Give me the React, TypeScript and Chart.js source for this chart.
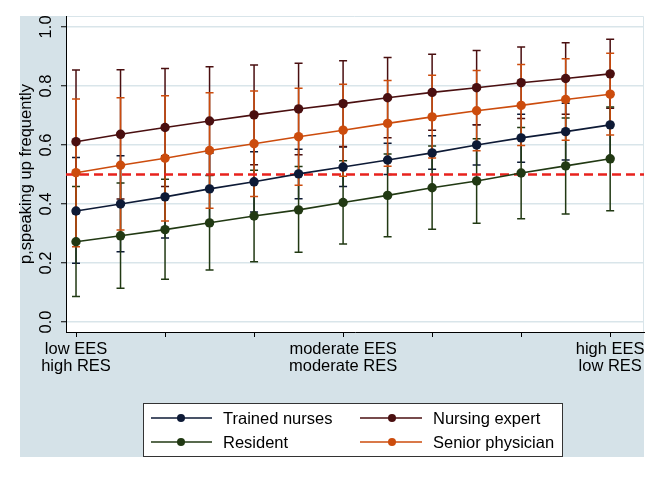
import React, { useEffect, useRef } from "react";
import { Chart, registerables } from "chart.js";
Chart.register(...registerables);

// ---------- data ----------
const X_INDEX = [0, 1, 2, 3, 4, 5, 6, 7, 8, 9, 10, 11, 12];
const X_TICKS = [0, 2, 4, 6, 8, 10, 12];
const X_LABEL_POS = [0, 6, 12];
const X_LABELS = [
  ["low EES", "high RES"],
  ["moderate EES", "moderate RES"],
  ["high EES", "low RES"],
];
const Y_TICKS = [0, 0.2, 0.4, 0.6, 0.8, 1.0];
const Y_TITLE = "p,speaking up frequently";
const REF_VALUE = 0.5;

const SERIES_NAMES = ["Trained nurses", "Nursing expert", "Resident", "Senior physician"];
const SERIES_COLORS = ["#0d1a36", "#4a0f10", "#213913", "#cc4c0d"];

const NURSES_MEAN = [0.376, 0.4, 0.424, 0.451, 0.475, 0.502, 0.525, 0.549, 0.573, 0.6, 0.624, 0.645, 0.668];
const NURSES_LO = [0.199, 0.238, 0.285, 0.33, 0.373, 0.418, 0.459, 0.5, 0.518, 0.532, 0.541, 0.549, 0.558];
const NURSES_HI = [0.557, 0.563, 0.563, 0.572, 0.577, 0.585, 0.593, 0.606, 0.631, 0.668, 0.704, 0.741, 0.778];

const EXPERT_MEAN = [0.611, 0.636, 0.659, 0.681, 0.702, 0.722, 0.74, 0.76, 0.778, 0.794, 0.811, 0.825, 0.841];
const EXPERT_LO = [0.368, 0.417, 0.459, 0.497, 0.533, 0.567, 0.595, 0.624, 0.65, 0.668, 0.69, 0.704, 0.724];
const EXPERT_HI = [0.854, 0.855, 0.859, 0.865, 0.871, 0.877, 0.885, 0.896, 0.907, 0.92, 0.932, 0.946, 0.958];

const RESIDENT_MEAN = [0.272, 0.292, 0.313, 0.336, 0.359, 0.38, 0.405, 0.429, 0.455, 0.478, 0.505, 0.529, 0.553];
const RESIDENT_LO = [0.086, 0.114, 0.145, 0.176, 0.204, 0.236, 0.264, 0.289, 0.314, 0.335, 0.35, 0.366, 0.377];
const RESIDENT_HI = [0.459, 0.471, 0.484, 0.496, 0.514, 0.527, 0.546, 0.569, 0.596, 0.621, 0.659, 0.691, 0.729];

const SENIOR_MEAN = [0.506, 0.531, 0.555, 0.581, 0.604, 0.628, 0.65, 0.673, 0.695, 0.716, 0.734, 0.754, 0.772];
const SENIOR_LO = [0.255, 0.312, 0.342, 0.385, 0.425, 0.463, 0.494, 0.528, 0.556, 0.58, 0.598, 0.616, 0.634];
const SENIOR_HI = [0.756, 0.76, 0.767, 0.777, 0.783, 0.792, 0.806, 0.818, 0.836, 0.852, 0.873, 0.892, 0.911];

const MEANS = [NURSES_MEAN, EXPERT_MEAN, RESIDENT_MEAN, SENIOR_MEAN];
const LOWS = [NURSES_LO, EXPERT_LO, RESIDENT_LO, SENIOR_LO];
const HIGHS = [NURSES_HI, EXPERT_HI, RESIDENT_HI, SENIOR_HI];

// ---------- style ----------
const FONT = "'Liberation Sans', Arial, Helvetica, sans-serif";
const BG = "#d5e2e8";
const GRID = "#d9e5ea";
const CAP = 4;

const backgroundPlugin = {
  id: "bgPlugin",
  beforeDraw(chart: any) {
    const { ctx, chartArea, scales } = chart;
    ctx.save();
    ctx.fillStyle = "#ffffff";
    ctx.fillRect(0, 0, chart.width, chart.height);
    ctx.fillStyle = BG;
    ctx.fillRect(scales.y.left, chartArea.top, chartArea.right - scales.y.left, scales.x.bottom - chartArea.top);
    ctx.fillStyle = "#ffffff";
    ctx.fillRect(chartArea.left, chartArea.top, chartArea.right - chartArea.left, chartArea.bottom - chartArea.top);
    ctx.strokeStyle = GRID;
    ctx.lineWidth = 1;
    ctx.beginPath();
    ctx.moveTo(chartArea.left, chartArea.top + 0.5);
    ctx.lineTo(chartArea.right - 0.5, chartArea.top + 0.5);
    ctx.lineTo(chartArea.right - 0.5, chartArea.bottom);
    ctx.stroke();
    ctx.restore();
  },
};

const errorBarPlugin = {
  id: "errorBars",
  beforeDatasetsDraw(chart: any) {
    const { ctx, scales, chartArea } = chart;
    const xs = scales.x;
    const ys = scales.y;
    ctx.save();
    ctx.lineWidth = 1.5;
    LOWS.forEach((lows, s) => {
      ctx.strokeStyle = SERIES_COLORS[s];
      lows.forEach((lo, i) => {
        const px = xs.getPixelForValue(X_INDEX[i]);
        const pl = ys.getPixelForValue(lo);
        const ph = ys.getPixelForValue(HIGHS[s][i]);
        ctx.beginPath();
        ctx.moveTo(px, pl);
        ctx.lineTo(px, ph);
        ctx.moveTo(px - CAP, pl);
        ctx.lineTo(px + CAP, pl);
        ctx.moveTo(px - CAP, ph);
        ctx.lineTo(px + CAP, ph);
        ctx.stroke();
      });
    });
    const ry = ys.getPixelForValue(REF_VALUE);
    ctx.strokeStyle = "#e8221d";
    ctx.lineWidth = 2.5;
    ctx.setLineDash([9, 5]);
    ctx.beginPath();
    ctx.moveTo(chartArea.left, ry);
    ctx.lineTo(chartArea.right, ry);
    ctx.stroke();
    ctx.restore();
  },
};

const legendPlugin = {
  id: "boxLegend",
  afterDraw(chart: any) {
    const { ctx, chartArea, scales } = chart;
    const boxW = 420;
    const boxH = 54;
    const bx = Math.round((chartArea.left + chartArea.right) / 2 - boxW / 2) - 2;
    const by = Math.round(scales.x.bottom - boxH);
    ctx.save();
    ctx.fillStyle = "#ffffff";
    ctx.fillRect(bx, by, boxW, boxH);
    ctx.strokeStyle = "#333333";
    ctx.lineWidth = 1;
    ctx.strokeRect(bx + 0.5, by + 0.5, boxW - 1, boxH - 1);
    const cols = [
      { l0: 8, l1: 69, m: 38, t: 80 },
      { l0: 217, l1: 279, m: 249, t: 290 },
    ];
    const rows = [15, 39];
    ctx.font = `16.5px ${FONT}`;
    ctx.textBaseline = "middle";
    ctx.textAlign = "left";
    SERIES_NAMES.forEach((name, i) => {
      const c = cols[i % 2];
      const ry = by + rows[Math.floor(i / 2)];
      ctx.strokeStyle = SERIES_COLORS[i];
      ctx.lineWidth = 1.5;
      ctx.beginPath();
      ctx.moveTo(bx + c.l0, ry);
      ctx.lineTo(bx + c.l1, ry);
      ctx.stroke();
      ctx.fillStyle = SERIES_COLORS[i];
      ctx.beginPath();
      ctx.arc(bx + c.m, ry, 4, 0, Math.PI * 2);
      ctx.fill();
      ctx.fillStyle = "#000000";
      ctx.fillText(name, bx + c.t, ry + 1);
    });
    ctx.restore();
  },
};

export default function App() {
  const ref = useRef<HTMLCanvasElement | null>(null);
  useEffect(() => {
    document.body.style.margin = "0";
    const canvas = ref.current;
    if (!canvas) return;
    const datasets = SERIES_NAMES.map((name, s) => ({
      label: name,
      data: X_INDEX.map((x, i) => ({ x, y: MEANS[s][i] })),
      borderColor: SERIES_COLORS[s],
      backgroundColor: SERIES_COLORS[s],
      pointBackgroundColor: SERIES_COLORS[s],
      pointBorderColor: SERIES_COLORS[s],
      pointRadius: 4.7,
      pointBorderWidth: 0,
      borderWidth: 1.6,
      tension: 0,
      fill: false,
      order: SERIES_NAMES.length - s,
    }));
    const chart = new Chart(canvas, {
      type: "line",
      data: { datasets },
      options: {
        responsive: false,
        animation: false,
        events: [],
        layout: { padding: { left: 20, top: 16, right: 16, bottom: 23 } },
        plugins: {
          legend: { display: false },
          tooltip: { enabled: false },
        },
        scales: {
          x: {
            type: "linear",
            min: -0.225,
            max: 12.76,
            afterFit: (s: any) => {
              s.height = 125;
            },
            afterBuildTicks: (s: any) => {
              s.ticks = X_TICKS.map((v) => ({ value: v }));
            },
            grid: {
              display: true,
              drawOnChartArea: false,
              drawTicks: true,
              tickLength: 5,
              tickColor: "#000000",
              tickWidth: 1,
            },
            border: { display: true, color: "#000000", width: 1 },
            ticks: {
              autoSkip: false,
              maxRotation: 0,
              minRotation: 0,
              padding: 4,
              color: "#000000",
              font: { family: FONT, size: 16.5, lineHeight: 1.02 },
              callback: (v: any) => {
                const k = X_LABEL_POS.indexOf(Number(v));
                return k >= 0 ? X_LABELS[k] : "";
              },
            },
          },
          y: {
            type: "linear",
            min: -0.034,
            max: 1.037,
            afterFit: (s: any) => {
              s.width = 46;
            },
            afterBuildTicks: (s: any) => {
              s.ticks = Y_TICKS.map((v) => ({ value: v }));
            },
            grid: {
              display: true,
              drawOnChartArea: true,
              color: GRID,
              lineWidth: 1.5,
              drawTicks: true,
              tickLength: 5,
              tickColor: "#000000",
              tickWidth: 1,
            },
            border: { display: true, color: "#000000", width: 1 },
            title: {
              display: true,
              text: Y_TITLE,
              color: "#000000",
              font: { family: FONT, size: 16.5, lineHeight: 1.0 },
              padding: { top: -2, bottom: 0 },
            },
            ticks: {
              minRotation: 90,
              maxRotation: 90,
              crossAlign: "center",
              padding: 3,
              color: "#000000",
              font: { family: FONT, size: 16.5 },
              callback: (v: any) => Number(v).toFixed(1),
            },
          },
        },
      },
      plugins: [backgroundPlugin, errorBarPlugin, legendPlugin],
    } as any);
    return () => chart.destroy();
  }, []);
  return (
    <div style={{ position: "absolute", left: 0, top: 0, width: 660, height: 480 }}>
      <canvas ref={ref} width={660} height={480} style={{ display: "block" }} />
    </div>
  );
}
